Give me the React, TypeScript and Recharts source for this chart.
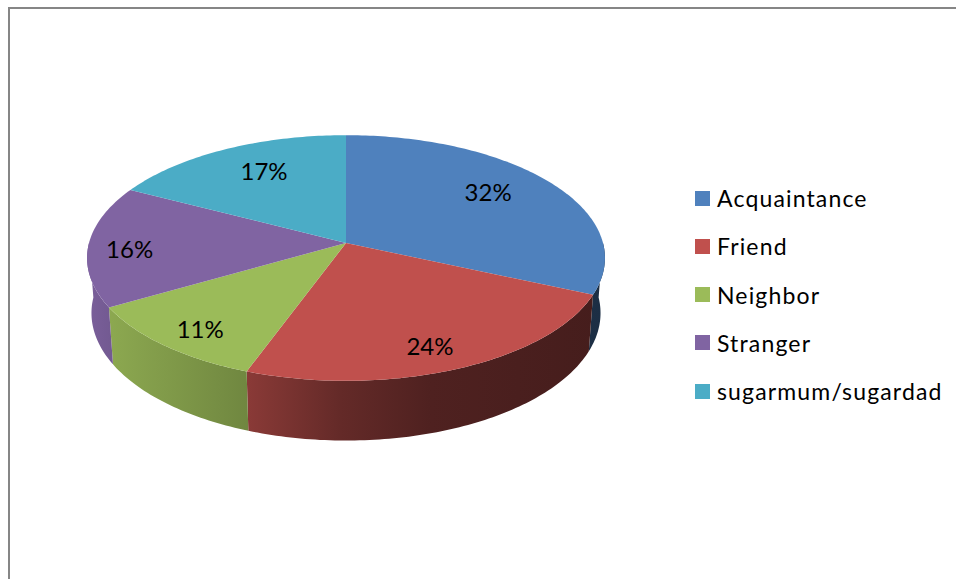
import React from 'react';
import { PieChart, Pie, Legend } from 'recharts';

const CATEGORIES = ['Acquaintance', 'Friend', 'Neighbor', 'Stranger', 'sugarmum/sugardad'];
const SHARES = [31.67, 23.89, 11.11, 16, 17.33];
const COLORS = ['#4f81bd', '#c0504d', '#9bbb59', '#8064a2', '#4bacc6'];

const data = CATEGORIES.map((name, i) => ({ name, value: SHARES[i], fill: COLORS[i] }));

// how far out each percent label sits, as a fraction of the radius (across, along the view)
const LABEL_FIT = [
  [0.703, 0.84],
  [0.743, 0.815],
  [0.8, 0.84],
  [0.84, 2],
  [0.68, 0.77],
];

const FONT = 'Lato, sans-serif';
const APEX_X = 346;
const APEX_Y = 243;
const RADIUS = 257;
const TILT = 121 / 257; // vertical squash of the pie disc
const PERSPECTIVE = 0.122; // back of the disc is further from the viewer
const DEPTH = 54.5;
const BOTTOM_SCALE = 0.983;

// wall shading along x: [x, brightness]
const WALL_SHADE = [
  [88, 0.95],
  [110, 0.9],
  [247, 0.72],
  [340, 0.52],
  [430, 0.41],
  [605, 0.36],
];

const shade = (hex: string, k: number) => {
  const n = parseInt(hex.slice(1), 16);
  const c = [(n >> 16) & 255, (n >> 8) & 255, n & 255].map(v => Math.round(v * k));
  return `rgb(${c.join(',')})`;
};

// recharts angle (deg, ccw from 3 o'clock) to a point on the tilted disc
const project = (cx: number, cy: number, r: number, angle: number, frac = 1, fracV = frac) => {
  const rad = (angle * Math.PI) / 180;
  const u = Math.cos(rad);
  const v = Math.sin(rad);
  const f = 1 / (1 + PERSPECTIVE * v);
  return { x: cx + r * u * f * frac, y: cy - r * TILT * v * f * fracV, f };
};

const sweep = (from: number, to: number) => {
  const steps = Math.max(2, Math.ceil(Math.abs(from - to)));
  const out: number[] = [];
  for (let i = 0; i <= steps; i++) out.push(from + ((to - from) * i) / steps);
  return out;
};

const Slice3D = (props: any) => {
  const { cx, cy, outerRadius, startAngle, endAngle, fill, index } = props;
  const rim = sweep(startAngle, endAngle).map(a => project(cx, cy, outerRadius, a));
  const top = `M${cx},${cy}L` + rim.map(p => `${p.x},${p.y}`).join('L') + 'Z';

  // only the part of the rim facing the viewer (lower half) has a visible wall
  const from = Math.min(startAngle, 0);
  const lo = Math.max(endAngle, -180);
  let wall = null;
  if (from > lo) {
    const front = sweep(from, lo).map(a => project(cx, cy, outerRadius, a));
    const bottom = [...front].reverse().map(p => ({
      x: cx + (p.x - cx) * BOTTOM_SCALE,
      y: cy + (p.y - cy) * BOTTOM_SCALE + DEPTH * p.f,
    }));
    const d = 'M' + [...front, ...bottom].map(p => `${p.x},${p.y}`).join('L') + 'Z';
    wall = <path d={d} fill={`url(#wall${index})`} />;
  }
  return (
    <g>
      {wall}
      <path d={top} fill={fill} />
    </g>
  );
};

const renderLabel = (props: any) => {
  const { cx, cy, outerRadius, midAngle, index, value } = props;
  const [fu, fv] = LABEL_FIT[index];
  const p = project(cx, cy, outerRadius, midAngle, fu, fv);
  return (
    <text x={p.x} y={p.y} textAnchor="middle" dominantBaseline="central" fontFamily={FONT} fontSize={24} fill="#000">
      {`${Math.round(value)}%`}
    </text>
  );
};

const renderLegend = () => (
  <div style={{ fontFamily: FONT, fontSize: 23, letterSpacing: 1.15, color: '#000' }}>
    {CATEGORIES.map((name, i) => (
      <div key={name} style={{ height: 48.25, display: 'flex', alignItems: 'center' }}>
        <span style={{ width: 15, height: 15, background: COLORS[i], marginRight: 7, flex: 'none' }} />
        <span style={{ whiteSpace: 'nowrap' }}>{name}</span>
      </div>
    ))}
  </div>
);

export default function App() {
  return (
    <div style={{ position: 'absolute', left: 0, top: 0, width: 956, height: 579, background: '#fff', overflow: 'hidden' }}>
      <div style={{ position: 'absolute', left: 8, top: 7, right: -4, bottom: -4, borderLeft: '2px solid #868686', borderTop: '2px solid #868686' }} />
      <div style={{ position: 'absolute', left: 0, top: 0 }}>
        <PieChart width={956} height={579} margin={{ top: 0, right: 0, bottom: 0, left: 0 }}>
          <defs>
            {COLORS.map((c, i) => (
              <linearGradient key={c} id={`wall${i}`} gradientUnits="userSpaceOnUse" x1={88} y1={0} x2={605} y2={0}>
                {WALL_SHADE.map(([x, k]) => (
                  <stop key={x} offset={(x - 88) / (605 - 88)} stopColor={shade(c, k)} />
                ))}
              </linearGradient>
            ))}
          </defs>
          <Pie
            data={data}
            dataKey="value"
            nameKey="name"
            cx={APEX_X}
            cy={APEX_Y}
            outerRadius={RADIUS}
            startAngle={90}
            endAngle={-270}
            stroke="none"
            shape={Slice3D}
            label={renderLabel}
            labelLine={false}
            isAnimationActive={false}
          />
          <Legend
            layout="vertical"
            content={renderLegend}
            wrapperStyle={{ left: 695, top: 174, width: 255 }}
          />
        </PieChart>
      </div>
    </div>
  );
}
